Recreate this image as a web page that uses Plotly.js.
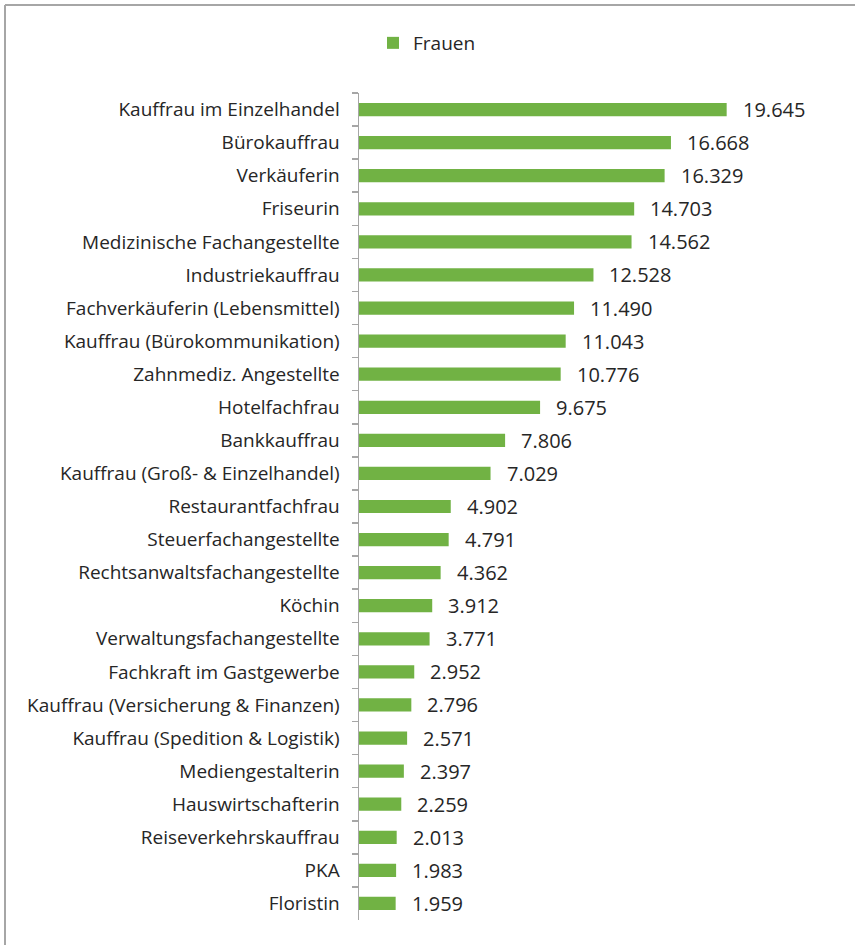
<!DOCTYPE html>
<html>
<head>
<meta charset="utf-8">
<script src="https://cdn.plot.ly/plotly-3.0.1.min.js"></script>
<style>html,body{margin:0;padding:0;background:#fff;}#chart{width:855px;height:945px;}</style>
</head>
<body>
<div id="chart"></div>
<script>
const categories = [
  "Kauffrau im Einzelhandel",
  "Bürokauffrau",
  "Verkäuferin",
  "Friseurin",
  "Medizinische Fachangestellte",
  "Industriekauffrau",
  "Fachverkäuferin (Lebensmittel)",
  "Kauffrau (Bürokommunikation)",
  "Zahnmediz. Angestellte",
  "Hotelfachfrau",
  "Bankkauffrau",
  "Kauffrau (Groß- & Einzelhandel)",
  "Restaurantfachfrau",
  "Steuerfachangestellte",
  "Rechtsanwaltsfachangestellte",
  "Köchin",
  "Verwaltungsfachangestellte",
  "Fachkraft im Gastgewerbe",
  "Kauffrau (Versicherung & Finanzen)",
  "Kauffrau (Spedition & Logistik)",
  "Mediengestalterin",
  "Hauswirtschafterin",
  "Reiseverkehrskauffrau",
  "PKA",
  "Floristin"
];
const frauen = [19645, 16668, 16329, 14703, 14562, 12528, 11490, 11043, 10776, 9675, 7806, 7029, 4902, 4791, 4362, 3912, 3771, 2952, 2796, 2571, 2397, 2259, 2013, 1983, 1959];
const seriesName = "Frauen";

function fmt(v){ return String(v).replace(/\B(?=(\d{3})+(?!\d))/g, "."); }

const W = 855, H = 945;
const mL = 359, mR = 15, mT = 93, mB = 25;
const pw = W - mL - mR, ph = H - mT - mB;
const px2x = p => (p - mL) / pw;
const py2y = p => 1 - (p - mT) / ph;

const FONT = "Open Sans, Noto Sans, sans-serif";
const TXT = "#262626";

const trace = {
  type: "bar",
  orientation: "h",
  name: seriesName,
  x: frauen,
  y: categories,
  marker: {color: "#71b244"},
  hoverinfo: "x+y"
};

const annotations = frauen.map((v, i) => ({
  x: v, y: categories[i], xref: "x", yref: "y",
  text: fmt(v), showarrow: false, xanchor: "left", yanchor: "middle",
  xshift: 14, font: {family: FONT, size: 20, color: TXT}
}));

const layout = {
  width: W, height: H,
  margin: {l: mL, r: mR, t: mT, b: mB, pad: 0},
  paper_bgcolor: "#ffffff", plot_bgcolor: "#ffffff",
  font: {family: FONT, size: 19, color: TXT},
  bargap: 0.6,
  showlegend: true,
  legend: {orientation: "h", x: px2x(373), y: py2y(43), xanchor: "left", yanchor: "middle",
           font: {family: FONT, size: 19, color: TXT}, bgcolor: "rgba(0,0,0,0)"},
  xaxis: {range: [0, 25700], visible: false, fixedrange: true},
  yaxis: {
    type: "category", autorange: "reversed",
    showline: true, linecolor: "#a6a6a6", linewidth: 1.5,
    ticks: "outside", tickson: "boundaries", ticklen: 6, tickcolor: "#a6a6a6", tickwidth: 1.5,
    ticklabelstandoff: 14,
    showgrid: false, zeroline: false,
    tickfont: {family: FONT, size: 19, color: TXT}
  },
  annotations: annotations,
  shapes: [
    {type: "line", xref: "paper", yref: "paper", x0: px2x(5), x1: px2x(5), y0: py2y(5), y1: py2y(945), line: {color: "#a6a6a6", width: 2}},
    {type: "line", xref: "paper", yref: "paper", x0: px2x(5), x1: px2x(855), y0: py2y(5), y1: py2y(5), line: {color: "#a6a6a6", width: 2}}
  ]
};

Plotly.newPlot("chart", [trace], layout, {displayModeBar: false, staticPlot: true});
</script>
</body>
</html>
